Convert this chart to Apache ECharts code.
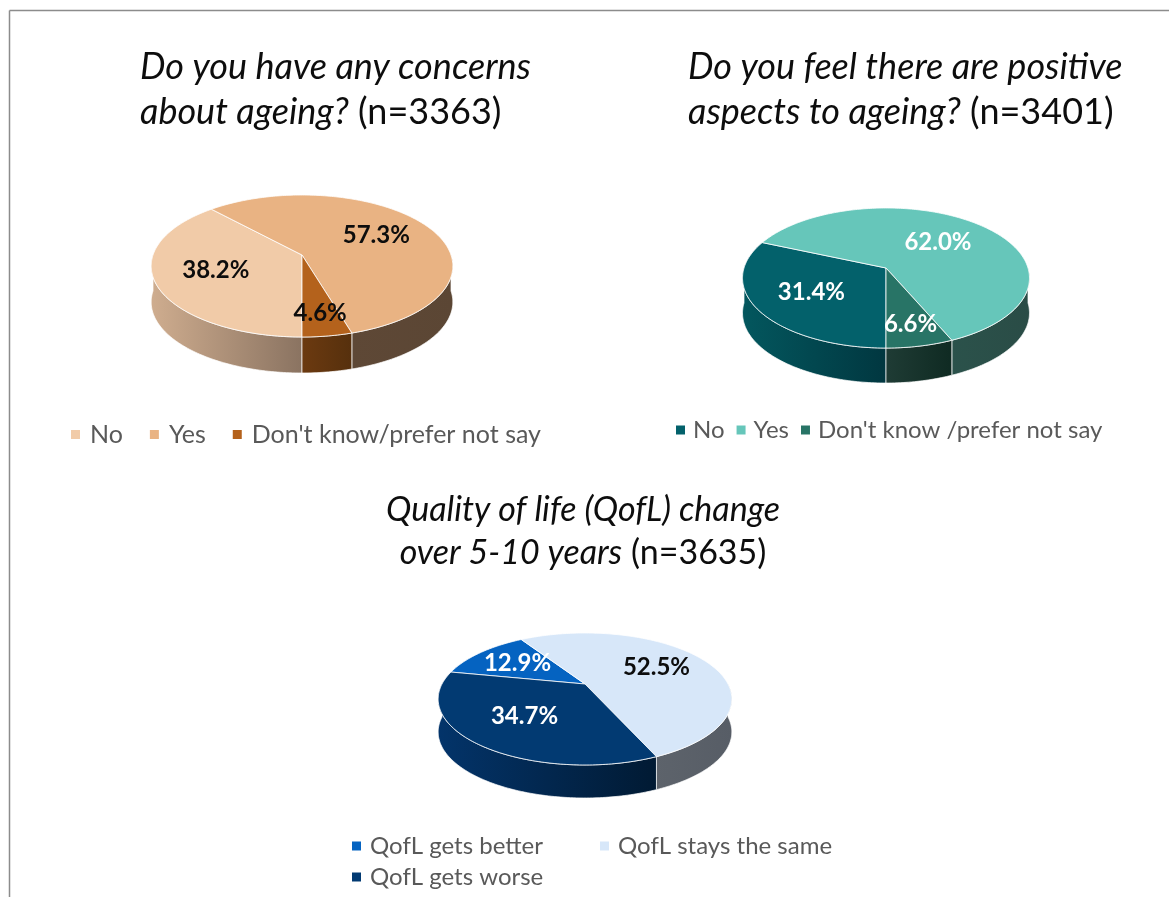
<!DOCTYPE html>
<html>
<head>
<meta charset="utf-8">
<script src="https://cdn.jsdelivr.net/npm/echarts@6/dist/echarts.min.js"></script>
<style>
html,body{margin:0;padding:0;background:#ffffff;}
#chart{width:1169px;height:897px;}
</style>
</head>
<body>
<div id="chart"></div>
<script>
// ---------------- DATA ----------------
const concernCategories = ['No', 'Yes', "Don't know/prefer not say"];
const concernValues = [38.2, 57.3, 4.6];
const concernN = 3363;

const positiveCategories = ['No', 'Yes', "Don't know /prefer not say"];
const positiveValues = [31.4, 62.0, 6.6];
const positiveN = 3401;

const qoflCategories = ['QofL gets better', 'QofL stays the same', 'QofL gets worse'];
const qoflValues = [12.9, 52.5, 34.7];
const qoflN = 3635;

// ---------------- STYLE / LAYOUT ----------------
const FONT = 'Lato, "Open Sans", sans-serif';
const pieStyles = [
  { cx: 302, cy: 255, ax: 149, ay: 69.3, k: 0.155, depth: 36, start: 180,
    top: ['#F1CBA8', '#E9B383', '#B4621C'],
    side: [['#CFAD8F', '#8A7361'], ['#5E4836', '#5B4634'], ['#6C3A10', '#56300D']],
    label: ['#0d0d0d', '#0d0d0d', '#0d0d0d'], labelR: [0.6, 0.6, 0.75] },
  { cx: 886, cy: 268, ax: 142, ay: 68.6, k: 0.143, depth: 35, start: 180,
    top: ['#03616B', '#66C6BA', '#287466'],
    side: [['#03575E', '#013740'], ['#2B524B', '#2A4C46'], ['#1F3C35', '#0F2A22']],
    label: ['#ffffff', '#ffffff', '#ffffff'], labelR: [0.6, 0.55, 0.75] },
  { cx: 585, cy: 684, ax: 143, ay: 62.6, k: 0.227, depth: 33, start: 281.5,
    top: ['#0563C1', '#D7E7F9', '#023A72'],
    side: [['#03458A', '#022F5E'], ['#5D636B', '#575D66'], ['#03346A', '#011A33']],
    label: ['#ffffff', '#0d0d0d', '#ffffff'], labelR: [0.62, 0.6, 0.6] }
];
const pies = [
  { cats: concernCategories, vals: concernValues, s: pieStyles[0] },
  { cats: positiveCategories, vals: positiveValues, s: pieStyles[1] },
  { cats: qoflCategories, vals: qoflValues, s: pieStyles[2] }
];

// perspective projection of a point on the pie disc (angle clockwise from 12 o'clock)
function project(s, deg, r) {
  const t = deg * Math.PI / 180;
  const u = r * Math.sin(t), v = -r * Math.cos(t);
  const d = 1 - s.k * v;
  return [s.cx + s.ax * u / d, s.cy + s.ay * v / d];
}
function arc(s, a, b) {
  const n = Math.max(2, Math.ceil((b - a) / 1));
  const pts = [];
  for (let i = 0; i <= n; i++) pts.push(project(s, a + (b - a) * i / n, 1));
  return pts;
}

function sliceRenderer(pie, i) {
  return function (params, api) {
    const s = pie.s;
    const v = api.value(0);
    const total = pie.vals.reduce((a, b) => a + b, 0);
    let before = 0;
    for (let j = 0; j < i; j++) before += pie.vals[j];
    const a1 = s.start + 360 * before / total;
    const a2 = a1 + 360 * v / total;
    const children = [];
    [[90, 270], [450, 630]].forEach(function (rg) {
      const st = Math.max(a1, rg[0]), en = Math.min(a2, rg[1]);
      if (en > st) {
        const topPts = arc(s, st, en);
        const bot = topPts.map(q => [q[0], q[1] + s.depth]).reverse();
        children.push({
          type: 'polygon', z2: 1,
          shape: { points: topPts.concat(bot) },
          style: {
            fill: { type: 'linear', x: 0, y: 0, x2: 1, y2: 0,
              colorStops: [{ offset: 0, color: s.side[i][0] }, { offset: 1, color: s.side[i][1] }] },
            stroke: 'rgba(255,255,255,0.7)', lineWidth: 1
          }
        });
      }
    });
    const top = [project(s, 0, 0)].concat(arc(s, a1, a2));
    children.push({
      type: 'polygon', z2: 2,
      shape: { points: top },
      style: { fill: s.top[i], stroke: 'rgba(255,255,255,0.8)', lineWidth: 1 }
    });
    const lp = project(s, (a1 + a2) / 2, s.labelR[i]);
    children.push({
      type: 'text', z2: 3, x: lp[0], y: lp[1],
      style: { text: v.toFixed(1) + '%', fill: s.label[i], font: 'bold 24px ' + FONT,
        align: 'center', verticalAlign: 'middle' }
    });
    return { type: 'group', children: children };
  };
}

const series = [];
pies.forEach(function (pie) {
  pie.cats.forEach(function (c, i) {
    series.push({
      type: 'custom', name: c, coordinateSystem: 'none',
      itemStyle: { color: pie.s.top[i] },
      data: [[pie.vals[i]]],
      renderItem: sliceRenderer(pie, i),
      silent: true
    });
  });
});

function legendData(pie, idx) {
  return idx.map(i => ({ name: pie.cats[i], itemStyle: { color: pie.s.top[i] } }));
}
function legendText(size, pad) {
  return { fontSize: size, color: '#595959', fontFamily: FONT, padding: [0, 0, 0, pad] };
}
const legendBase = { orient: 'horizontal', icon: 'rect', itemWidth: 9, itemHeight: 9, padding: 0,
  selectedMode: false };

function titleRich(size, lh) {
  return {
    i: { fontStyle: 'italic', fontWeight: 'normal', fontSize: size, fontFamily: FONT, color: '#0d0d0d', lineHeight: lh },
    n: { fontStyle: 'normal', fontWeight: 'normal', fontSize: size, fontFamily: FONT, color: '#0d0d0d', lineHeight: lh }
  };
}

const option = {
  animation: false,
  backgroundColor: '#ffffff',
  title: [
    { left: 140, top: 45, padding: 0, text: '{i|Do you have any concerns}\n{i|about ageing?}{n| (n=' + concernN + ')}',
      textStyle: { fontWeight: 'normal', rich: titleRich(36, 45) } },
    { left: 688, top: 45, padding: 0, text: '{i|Do you feel there are positive}\n{i|aspects to ageing?}{n| (n=' + positiveN + ')}',
      textStyle: { fontWeight: 'normal', rich: titleRich(36, 45) } },
    { left: 583, top: 489, padding: 0, textAlign: 'center',
      text: '{i|Quality of life (QofL) change}\n{i|over 5-10 years}{n| (n=' + qoflN + ')}',
      textStyle: { fontWeight: 'normal', rich: titleRich(34, 43) } }
  ],
  legend: [
    Object.assign({}, legendBase, { left: 71, top: 422, itemGap: 27, textStyle: legendText(25, 5), data: legendData(pies[0], [0, 1, 2]) }),
    Object.assign({}, legendBase, { left: 676, top: 418, itemGap: 12, textStyle: legendText(24, 3), data: legendData(pies[1], [0, 1, 2]) }),
    Object.assign({}, legendBase, { left: 352, top: 834, itemGap: 57, textStyle: legendText(24, 4), data: legendData(pies[2], [0, 1]) }),
    Object.assign({}, legendBase, { left: 352, top: 865, itemGap: 20, textStyle: legendText(24, 4), data: legendData(pies[2], [2]) })
  ],
  graphic: [
    { type: 'line', shape: { x1: 9.5, y1: 10.5, x2: 1169, y2: 10.5 }, style: { stroke: '#8c8c8c', lineWidth: 1.5 }, silent: true },
    { type: 'line', shape: { x1: 9.5, y1: 10.5, x2: 9.5, y2: 897 }, style: { stroke: '#8c8c8c', lineWidth: 1.5 }, silent: true }
  ],
  series: series
};

const chart = echarts.init(document.getElementById('chart'), null, { renderer: 'canvas' });
chart.setOption(option);
</script>
</body>
</html>
